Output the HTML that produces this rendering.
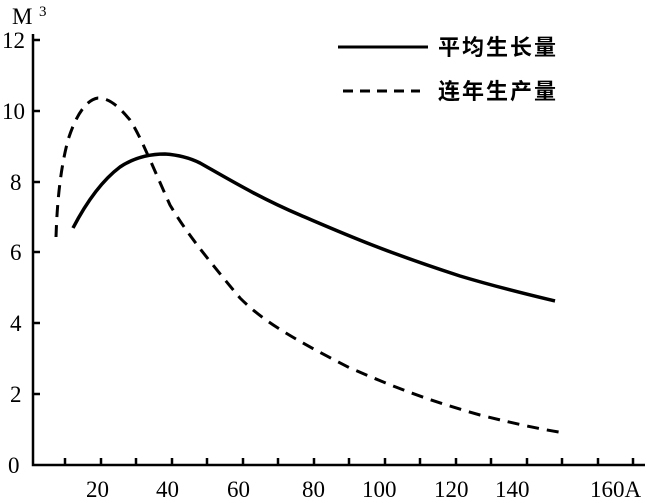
<!DOCTYPE html>
<html><head><meta charset="utf-8"><style>
html,body{margin:0;padding:0;background:#fff;}
svg{display:block;}
text{font-family:"Liberation Serif","Noto Serif CJK SC",serif;fill:#000;}
</style></head><body>
<svg width="651" height="503" viewBox="0 0 651 503" xmlns="http://www.w3.org/2000/svg">
<g stroke="#000" stroke-width="2.5" fill="none">
<path d="M33 34 V465 H645"/>
<path d="M33 40 h7 M33 111 h7 M33 182 h7 M33 252 h7 M33 323 h7 M33 394 h7"/>
<path d="M65 465 v-7 M101 465 v-7 M136 465 v-7 M172 465 v-7 M207 465 v-7 M243 465 v-7 M278 465 v-7 M314 465 v-7 M349 465 v-7 M385 465 v-7 M420 465 v-7 M456 465 v-7 M491 465 v-7 M527 465 v-7 M562 465 v-7 M598 465 v-7 M633 465 v-7"/>
</g>
<g font-size="23">
<text x="2" y="48">12</text>
<text x="2" y="119">10</text>
<text x="10" y="190">8</text>
<text x="10" y="260">6</text>
<text x="10" y="331">4</text>
<text x="10" y="402">2</text>
<text x="8" y="473">0</text>
<text x="86" y="497">20</text>
<text x="156" y="497">40</text>
<text x="227" y="497">60</text>
<text x="302" y="497">80</text>
<text x="362" y="497">100</text>
<text x="434" y="497">120</text>
<text x="495" y="497">140</text>
<text x="590" y="497">160A</text>
<text x="12" y="24">M</text><text x="39" y="16" font-size="15">3</text>
</g>
<path d="M338 47 H428" stroke="#000" stroke-width="3"/>
<path d="M343 91 H420" stroke="#000" stroke-width="3" stroke-dasharray="10 7"/>
<g font-size="22" font-weight="bold">
<text x="438" y="55" style="font-family:'Noto Sans CJK SC',sans-serif" letter-spacing="2">平均生长量</text>
<text x="438" y="99" style="font-family:'Noto Sans CJK SC',sans-serif" letter-spacing="2">连年生产量</text>
</g>
<path d="M73 228 C85 205 100 182 120 167 C135 157 150 154 165 154 C180 155 190 158 200 163 C230 180 260 198 300 215 C340 232 380 250 460 276 C500 288 530 295 555 301" stroke="#000" stroke-width="3.5" fill="none"/>
<path d="M56 237 C57 205 60 170 68 140 C75 118 85 100 98 98 C110 98 120 108 130 120 C140 135 152 165 170 205 C185 230 200 250 240 298 C260 318 285 335 350 368 C390 385 420 398 480 415 C520 425 545 430 565 433" stroke="#000" stroke-width="3" fill="none" stroke-dasharray="12 8"/>
</svg>
</body></html>
